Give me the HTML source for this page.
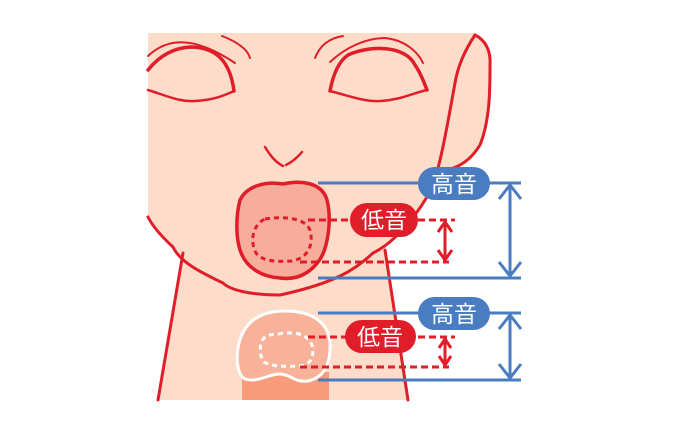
<!DOCTYPE html>
<html><head><meta charset="utf-8"><style>
html,body{margin:0;padding:0;background:#fff;width:700px;height:424px;overflow:hidden}
text{font-family:"Liberation Sans","Noto Sans CJK JP",sans-serif}
</style></head><body>
<svg width="700" height="424" viewBox="0 0 700 424" xmlns="http://www.w3.org/2000/svg">
<path d="M183,253 L158,400 L408,400 L385,250 Z" fill="#fddcca"/>
<path d="M148,33 L475,33 C485,40 492,50 490,65 C490,90 490,120 480,145 C470,160 460,165 453,167 C445,180 435,190 427,197 C410,225 390,245 373,253 C355,270 335,283 280,295 C250,295 230,290 223,283 C200,272 180,262 173,247 C160,235 152,225 148,217 Z" fill="#fddcca"/>
<g fill="none" stroke="#e01e2a" stroke-linecap="round">
<path d="M475,35 C465,50 458,65 455,83 C450,110 445,140 440,160 C436,178 432,188 427,197 C410,225 390,245 373,253 C355,270 335,283 280,295 C250,295 230,290 223,283 C200,272 180,262 173,247 C160,235 152,225 148,217" stroke-width="3"/>
<path d="M475,35 C485,40 491,50 490,65 C490,90 490,120 480,145 C472,158 462,165 453,168" stroke-width="3"/>
<path d="M183,253 L158,400" stroke-width="3"/>
<path d="M385,250 L408,400" stroke-width="3"/>
<path d="M148,70 C160,55 175,48 190,47 C215,47 230,60 234,91" stroke-width="3.5"/>
<path d="M148,90 C170,97 180,102 195,101 C215,100 225,95 234,91" stroke-width="2.5"/>
<path d="M148,56 C165,40 190,33 235,63" stroke-width="2"/>
<path d="M222,36 C238,42 248,50 250,58" stroke-width="2"/>
<path d="M330,91 C333,75 338,62 348,55 C370,45 405,45 415,65 C420,72 424,82 427,90" stroke-width="3.5"/>
<path d="M330,91 C350,96 365,102 380,101 C400,100 410,94 427,90" stroke-width="2.5"/>
<path d="M315,58 C320,45 330,38 343,36" stroke-width="2"/>
<path d="M330,62 C345,48 365,38 385,38 C405,40 418,52 423,63" stroke-width="2"/>
<path d="M265,147 C270,155 275,162 283,166" stroke-width="2.5"/>
<path d="M302,152 C297,158 292,162 286,165" stroke-width="2.5"/>
</g>
<path d="M283,184 C300,180 322,182 327,200 C332,220 328,250 318,262 C308,275 295,280 280,278 C262,277 248,268 242,255 C235,240 236,215 240,200 C247,186 265,181 283,184 Z" fill="#f8ac9b" stroke="#e01e2a" stroke-width="3.5"/>
<path d="M265,219 C285,216 305,218 310,230 C314,245 308,258 292,261 C275,262 262,261 256,253 C250,242 252,225 265,219 Z" fill="none" stroke="#e01e2a" stroke-width="3" stroke-dasharray="5,4"/>
<rect x="242" y="372" width="87" height="28" fill="#f79b7a"/>
<path d="M285,311 C315,311 332,325 330,350 C329,368 322,378 308,381 C295,383 290,374 280,374 C268,374 258,383 245,379 C236,374 236,355 239,343 C245,320 262,311 285,311 Z" fill="#f9b29a" stroke="#fff" stroke-width="3"/>
<path d="M278,334 C295,331 308,334 312,345 C315,358 310,366 298,366 C285,367 270,366 264,362 C259,356 259,343 264,338 C268,335 272,334 278,334 Z" fill="none" stroke="#fff" stroke-width="3" stroke-dasharray="5,4"/>
<g stroke="#4a7cc2" stroke-width="3" fill="none">
<line x1="318" y1="183" x2="521" y2="183"/>
<line x1="318" y1="278" x2="521" y2="278"/>
<line x1="510" y1="185" x2="510" y2="276"/>
<path d="M499,199 L510,185 L521,199 M499,262 L510,276 L521,262"/>
<line x1="318" y1="313" x2="521" y2="313"/>
<line x1="318" y1="380" x2="521" y2="380"/>
<line x1="510" y1="315" x2="510" y2="378"/>
<path d="M499,329 L510,315 L521,329 M499,364 L510,378 L521,364"/>
</g>
<g stroke="#e01e2a" stroke-width="3" fill="none">
<line x1="308" y1="220" x2="455" y2="220" stroke-dasharray="7,4"/>
<line x1="300" y1="262" x2="449" y2="262" stroke-dasharray="7,4"/>
<line x1="445" y1="222" x2="445" y2="260"/>
<path d="M438,232 L445,222 L452,232 M438,250 L445,260 L452,250"/>
<line x1="308" y1="337" x2="455" y2="337" stroke-dasharray="7,4"/>
<line x1="300" y1="367" x2="449" y2="367" stroke-dasharray="7,4"/>
<line x1="445" y1="339" x2="445" y2="365"/>
<path d="M439,348 L445,339 L451,348 M439,356 L445,365 L451,356"/>
</g>
<rect x="418" y="167" width="72" height="33" rx="16.5" fill="#4a7cc2"/>
<text x="454" y="192" font-size="23" fill="#fff" text-anchor="middle">高音</text>
<rect x="418" y="297" width="72" height="33" rx="16.5" fill="#4a7cc2"/>
<text x="454" y="322" font-size="23" fill="#fff" text-anchor="middle">高音</text>
<rect x="350" y="203" width="68" height="34" rx="17" fill="#e01e2a"/>
<text x="384" y="228" font-size="23" fill="#fff" text-anchor="middle">低音</text>
<rect x="345" y="320" width="71" height="33" rx="16.5" fill="#e01e2a"/>
<text x="380" y="345" font-size="23" fill="#fff" text-anchor="middle">低音</text>
</svg>
</body></html>
